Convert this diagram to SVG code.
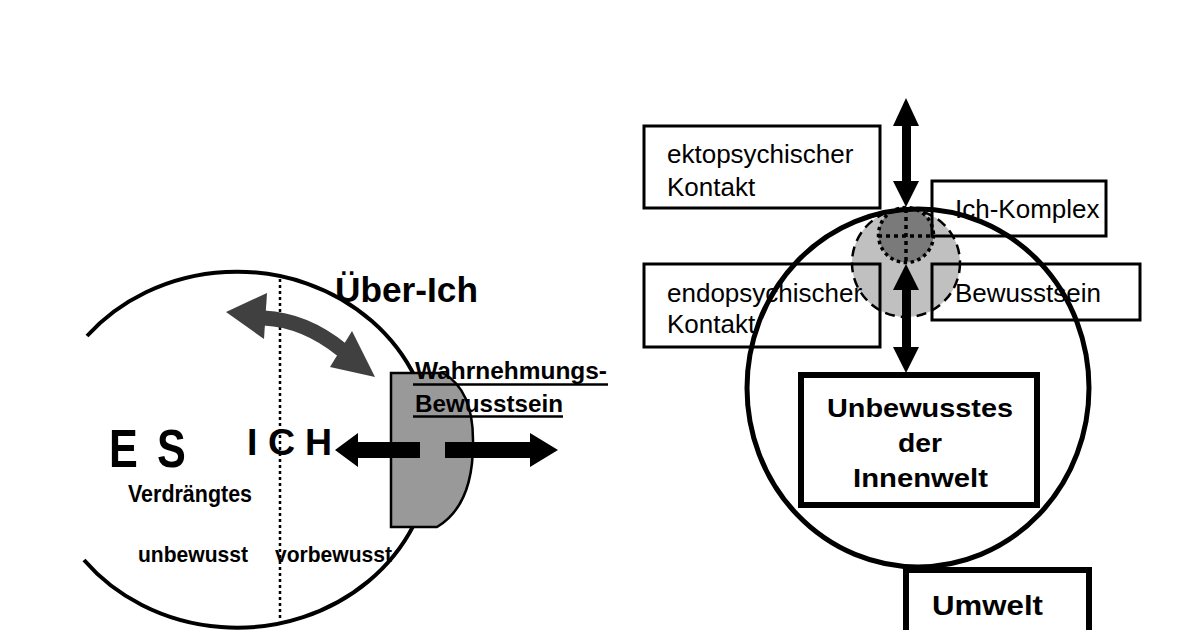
<svg xmlns="http://www.w3.org/2000/svg" width="1200" height="630" viewBox="0 0 1200 630">
<style>
text{font-family:"Liberation Sans",Arial,Helvetica,sans-serif;fill:#000}
.b{font-weight:bold}
.r{font-size:26px}
.box{fill:none;stroke:#000;stroke-width:3}
.tbox{fill:none;stroke:#000;stroke-width:6}
.ul{stroke:#000;stroke-width:2.5}
.blk{fill:#000}
.ctr{text-anchor:middle}
</style>
<rect width="1200" height="630" fill="#fff"/>

<!-- LEFT DIAGRAM -->
<g id="psyche-outline">
  <path d="M87,336 A195,178 0 1 1 84,560" fill="none" stroke="#000" stroke-width="4"/>
  <line x1="280" y1="279" x2="280" y2="618" stroke="#000" stroke-width="2.5" stroke-dasharray="3 3"/>
</g>

<g id="wahrnehmung-bewusstsein">
  <path d="M391,373 H443 Q473,390 473,440 Q474,505 437,527 H391 Z" fill="#999" stroke="#000" stroke-width="2.5"/>
  <text class="b" x="415" y="379" font-size="24" textLength="192" lengthAdjust="spacingAndGlyphs">Wahrnehmungs-</text>
  <line class="ul" x1="413" y1="384.5" x2="608" y2="384.5"/>
  <text class="b" x="415" y="411.5" font-size="24" textLength="148" lengthAdjust="spacingAndGlyphs">Bewusstsein</text>
  <line class="ul" x1="413" y1="416.5" x2="563" y2="416.5"/>
</g>

<g id="ueber-ich">
  <text class="b" x="335" y="302" font-size="35" textLength="143" lengthAdjust="spacingAndGlyphs">Über-Ich</text>
</g>

<g id="es">
  <text class="b" font-size="54" transform="translate(109,467) scale(0.8,1)" x="0 40 60" y="0">E S</text>
  <text class="b" x="128" y="502" font-size="23" textLength="124" lengthAdjust="spacingAndGlyphs">Verdrängtes</text>
  <text class="b" x="138" y="562" font-size="21.5" textLength="110" lengthAdjust="spacingAndGlyphs">unbewusst</text>
</g>

<g id="ich">
  <text class="b" font-size="37.5" x="247 258 268 292 305" y="455">I C H</text>
  <text class="b" x="275" y="562" font-size="21.5" textLength="117" lengthAdjust="spacingAndGlyphs">vorbewusst</text>
</g>

<g id="connectors-left">
  <path d="M264,318 Q305,320 342,350" fill="none" stroke="#404040" stroke-width="15"/>
  <polygon points="226,312 267,293 264,339" fill="#404040"/>
  <polygon points="375,377 352,331 330,367" fill="#404040"/>
  <polygon class="blk" points="420,442 358,442 358,433 335,450 358,467 358,458 420,458"/>
  <polygon class="blk" points="445,442 530,442 530,433 558,450 530,467 530,458 445,458"/>
</g>

<!-- RIGHT DIAGRAM -->
<g id="bewusstsein-feld">
  <circle cx="906" cy="263" r="54" fill="#c0c0c0" stroke="#000" stroke-width="2.5" stroke-dasharray="10 6"/>
</g>

<g id="ich-komplex-kern">
  <circle cx="906" cy="235" r="27.5" fill="#7a7a7a" stroke="#000" stroke-width="3.5" stroke-dasharray="3.5 3.5"/>
  <line x1="878" y1="236" x2="934" y2="236" stroke="#000" stroke-width="3.5" stroke-dasharray="4 4"/>
  <line x1="906" y1="209" x2="906" y2="263" stroke="#000" stroke-width="3.5" stroke-dasharray="4 4"/>
</g>

<g id="ektopsychischer-kontakt">
  <rect class="box" x="644" y="126" width="236" height="82"/>
  <text class="r" x="667" y="163">ektopsychischer</text>
  <text class="r" x="667" y="196">Kontakt</text>
</g>

<g id="endopsychischer-kontakt">
  <rect class="box" x="644" y="264" width="236" height="83"/>
  <text class="r" x="667" y="302">endopsychischer</text>
  <text class="r" x="667" y="333">Kontakt</text>
</g>

<g id="ich-komplex">
  <rect class="box" x="932" y="181" width="174" height="55"/>
  <text class="r" x="955" y="218">Ich-Komplex</text>
</g>

<g id="bewusstsein">
  <rect class="box" x="932" y="264" width="208" height="56"/>
  <text class="r" x="955" y="302">Bewusstsein</text>
</g>

<g id="psyche-kreis">
  <ellipse cx="918" cy="388" rx="171" ry="179" fill="none" stroke="#000" stroke-width="5"/>
</g>

<g id="unbewusstes-innenwelt">
  <rect class="tbox" x="801" y="375" width="236" height="130"/>
  <text class="b ctr" x="920" y="417" font-size="25" textLength="186" lengthAdjust="spacingAndGlyphs">Unbewusstes</text>
  <text class="b ctr" x="920" y="452" font-size="25" textLength="44" lengthAdjust="spacingAndGlyphs">der</text>
  <text class="b ctr" x="920.5" y="487" font-size="25" textLength="135" lengthAdjust="spacingAndGlyphs">Innenwelt</text>
</g>

<g id="umwelt">
  <rect class="tbox" x="906" y="570" width="183" height="80"/>
  <text class="b ctr" x="987.5" y="615" font-size="28" textLength="111" lengthAdjust="spacingAndGlyphs">Umwelt</text>
</g>

<g id="connectors-right">
  <rect class="blk" x="902" y="124" width="9" height="60"/>
  <polygon class="blk" points="906,98 919,126 893,126"/>
  <polygon class="blk" points="906,207 919,181 893,181"/>
  <rect class="blk" x="902" y="288" width="9" height="61"/>
  <polygon class="blk" points="906,264 919,290 893,290"/>
  <polygon class="blk" points="906,373 919,347 893,347"/>
</g>
</svg>
